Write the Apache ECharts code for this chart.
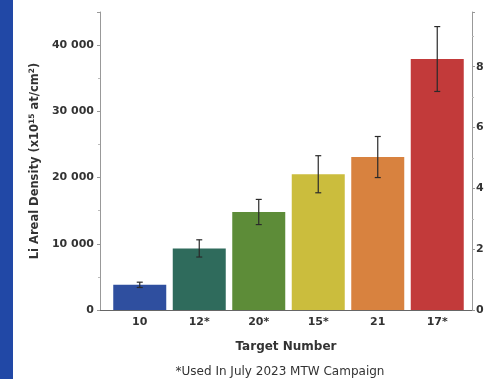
<!DOCTYPE html>
<html>
<head>
<meta charset="utf-8">
<script src="https://cdn.jsdelivr.net/npm/echarts@6/dist/echarts.min.js"></script>
<style>
  html, body { margin: 0; padding: 0; background: #fff; }
  #chart { width: 492px; height: 379px; }
</style>
</head>
<body>
<div id="chart"></div>
<script>
// Lithium areal density per target, with measurement uncertainty
const targets = ['10', '12*', '20*', '15*', '21', '17*'];
const density = [3800, 9300, 14800, 20500, 23100, 37900];      // x10^15 at/cm^2
const densityErr = [400, 1300, 1900, 2800, 3100, 4900];
const barColors = ['#2f4f9f', '#2f6b5c', '#5d8c38', '#cbbd3d', '#d8823f', '#c23a3a'];

// Axis ranges: left in atoms, right is the equivalent Li thickness (um)
const densityMax = 45000;
const densityStep = 10000;
const thicknessMax = 9.8;
const thicknessStep = 2;

const footnote = '*Used In July 2023 MTW Campaign';

const chart = echarts.init(document.getElementById('chart'), null, { renderer: 'canvas' });

const FONT = 'DejaVu Sans, Verdana, sans-serif';
const labelFont = { fontFamily: FONT, fontWeight: 'bold', color: '#333', fontSize: 11 };

const errorData = targets.map((t, i) => [i, density[i] - densityErr[i], density[i] + densityErr[i]]);

chart.setOption({
  animation: false,
  backgroundColor: '#fff',
  graphic: [
    { type: 'rect', left: 0, top: 0, shape: { width: 13, height: 379 }, style: { fill: '#2148a6' } },
    {
      type: 'text', x: 280, y: 372,
      style: { text: footnote, fill: '#333', font: '12px ' + FONT, textAlign: 'center', textVerticalAlign: 'middle' }
    }
  ],
  // grid 0 holds the bars (inset from the frame), grid 1 holds the framing axes
  grid: [
    { left: 110, right: 25, top: 12, bottom: 69 },
    { left: 100, right: 20, top: 12, bottom: 69 }
  ],
  xAxis: [
    {
      type: 'category',
      gridIndex: 0,
      data: targets,
      axisLine: { show: false },
      axisTick: { show: false },
      axisLabel: Object.assign({ margin: 7 }, labelFont)
    },
    {
      type: 'value',
      gridIndex: 1,
      min: 0, max: 1,
      name: 'Target Number',
      nameLocation: 'middle',
      nameGap: 31,
      nameTextStyle: Object.assign({}, labelFont, { fontSize: 12 }),
      axisLine: { show: true, lineStyle: { color: '#666' } },
      axisTick: { show: false },
      axisLabel: { show: false },
      splitLine: { show: false }
    }
  ],
  yAxis: [
    {
      type: 'value',
      gridIndex: 0,
      min: 0, max: densityMax,
      show: false,
      splitLine: { show: false }
    },
    {
      type: 'value',
      gridIndex: 1,
      min: 0, max: densityMax, interval: densityStep,
      name: 'Li Areal Density (x10{sup|15} at/cm{sup|2})',
      nameLocation: 'middle',
      nameGap: 58,
      nameTextStyle: Object.assign({}, labelFont, {
        fontSize: 11.5,
        rich: { sup: Object.assign({}, labelFont, { fontSize: 7.5, verticalAlign: 'top', padding: [0, 0, 6, 0] }) }
      }),
      axisLine: { show: true, lineStyle: { color: '#999' } },
      axisTick: { show: true, length: 3, lineStyle: { color: '#999' } },
      minorTick: { show: true, splitNumber: 2, length: 2, lineStyle: { color: '#bbb' } },
      splitLine: { show: false },
      axisLabel: Object.assign({
        margin: 6,
        showMaxLabel: false,
        formatter: v => String(v).replace(/\B(?=(\d{3})+(?!\d))/g, ' ')
      }, labelFont)
    },
    {
      type: 'value',
      gridIndex: 1,
      min: 0, max: thicknessMax, interval: thicknessStep,
      position: 'right',
      axisLine: { show: true, lineStyle: { color: '#999' } },
      axisTick: { show: true, length: 3, lineStyle: { color: '#999' } },
      minorTick: { show: true, splitNumber: 2, length: 2, lineStyle: { color: '#bbb' } },
      splitLine: { show: false },
      axisLabel: Object.assign({ margin: 4, showMaxLabel: false }, labelFont)
    }
  ],
  series: [
    {
      type: 'bar',
      xAxisIndex: 0,
      yAxisIndex: 0,
      barWidth: 53,
      data: density.map((v, i) => ({ value: v, itemStyle: { color: barColors[i] } }))
    },
    {
      type: 'custom',
      xAxisIndex: 0,
      yAxisIndex: 0,
      data: errorData,
      encode: { x: 0, y: [1, 2] },
      z: 10,
      renderItem: function (params, api) {
        const lo = api.coord([api.value(0), api.value(1)]);
        const hi = api.coord([api.value(0), api.value(2)]);
        const cap = 3;
        const style = { stroke: '#2a2a2a', lineWidth: 1.2 };
        return {
          type: 'group',
          children: [
            { type: 'line', shape: { x1: lo[0], y1: lo[1], x2: hi[0], y2: hi[1] }, style },
            { type: 'line', shape: { x1: hi[0] - cap, y1: hi[1], x2: hi[0] + cap, y2: hi[1] }, style },
            { type: 'line', shape: { x1: lo[0] - cap, y1: lo[1], x2: lo[0] + cap, y2: lo[1] }, style }
          ]
        };
      }
    }
  ]
});
</script>
</body>
</html>
